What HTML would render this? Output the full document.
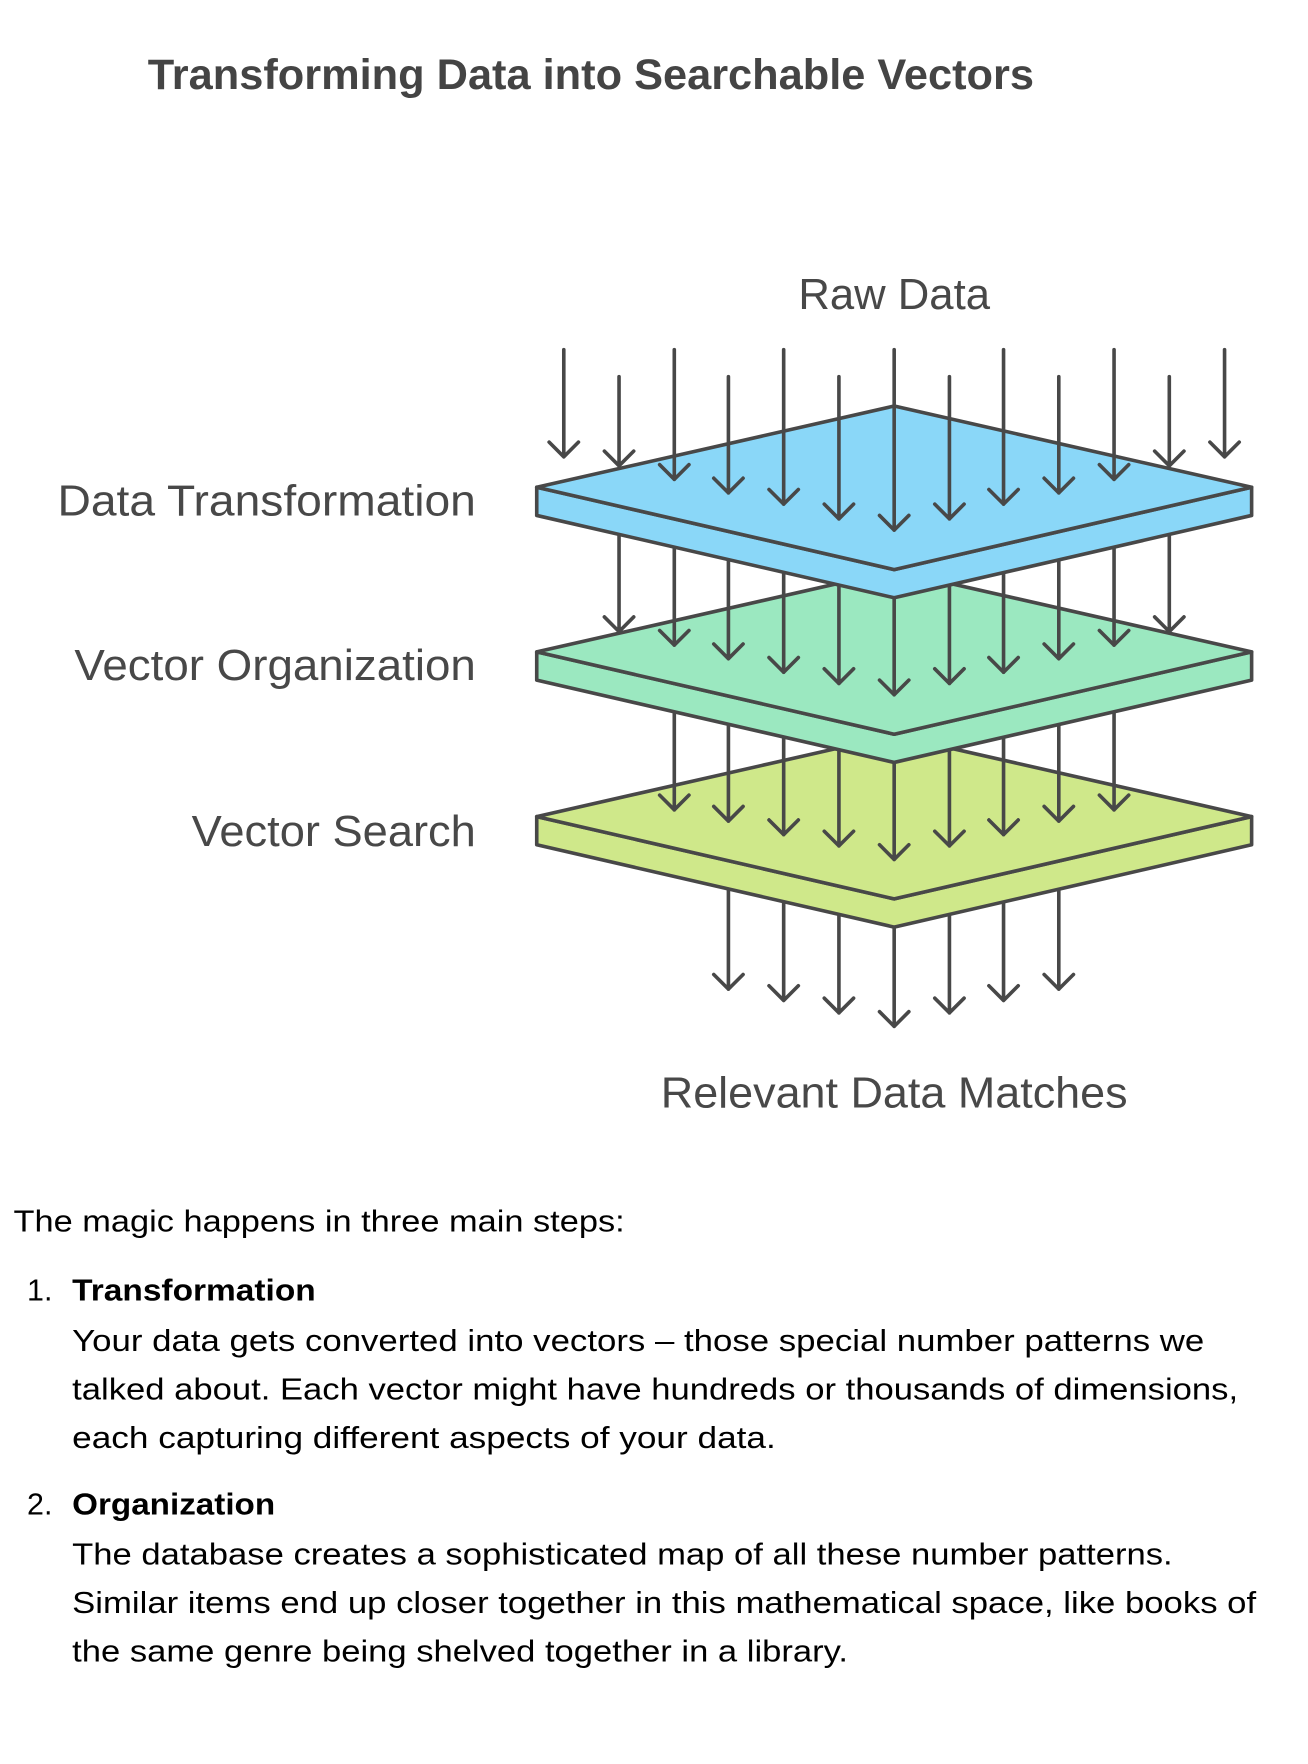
<!DOCTYPE html>
<html><head><meta charset="utf-8"><style>
html,body{margin:0;padding:0;background:#fff;}
svg{display:block;}
</style></head><body>
<svg width="1308" height="1764" viewBox="0 0 1160 1564" preserveAspectRatio="none" xmlns="http://www.w3.org/2000/svg" font-family="'Liberation Sans', sans-serif">
<rect width="1160" height="1564" fill="#fff"/>
<text x="131" y="79" font-size="38" font-weight="bold" fill="#444" textLength="786" lengthAdjust="spacingAndGlyphs">Transforming Data into Searchable Vectors</text>
<text x="708" y="274" font-size="39" fill="#484848" textLength="170" lengthAdjust="spacingAndGlyphs">Raw Data</text>
<g font-size="39" fill="#484848">
<text x="51" y="457" textLength="371" lengthAdjust="spacingAndGlyphs">Data Transformation</text>
<text x="66" y="603" textLength="356" lengthAdjust="spacingAndGlyphs">Vector Organization</text>
<text x="170" y="750" textLength="252" lengthAdjust="spacingAndGlyphs">Vector Search</text>
</g>
<text x="586" y="982" font-size="39" fill="#484848" textLength="414" lengthAdjust="spacingAndGlyphs">Relevant Data Matches</text>
<g stroke="#484848" stroke-width="3.2" fill="none" stroke-linecap="round" stroke-linejoin="round">
<path d="M646 770V877M633 864L646 877L659 864"/>
<path d="M695 770V887M682 874L695 887L708 874"/>
<path d="M744 770V898M731 885L744 898L757 885"/>
<path d="M793 770V910M780 897L793 910L806 897"/>
<path d="M842 770V898M829 885L842 898L855 885"/>
<path d="M890 770V887M877 874L890 887L903 874"/>
<path d="M939 770V877M926 864L939 877L952 864"/>
<path d="M476 724L476 749L793 822L1110 749L1110 724L793 797Z" fill="#CFE88A"/>
<path d="M476 724L793 652L1110 724L793 797Z" fill="#CFE88A"/>
<path d="M598 620V718M585 705L598 718L611 705"/>
<path d="M646 620V728M633 715L646 728L659 715"/>
<path d="M695 620V740M682 727L695 740L708 727"/>
<path d="M744 620V750M731 737L744 750L757 737"/>
<path d="M793 620V762M780 749L793 762L806 749"/>
<path d="M842 620V750M829 737L842 750L855 737"/>
<path d="M890 620V740M877 727L890 740L903 727"/>
<path d="M939 620V728M926 715L939 728L952 715"/>
<path d="M988 620V718M975 705L988 718L1001 705"/>
<path d="M476 578L476 603L793 676L1110 603L1110 578L793 651Z" fill="#9BE8C0"/>
<path d="M476 578L793 506L1110 578L793 651Z" fill="#9BE8C0"/>
<path d="M549 470V560M536 547L549 560L562 547"/>
<path d="M598 470V572M585 559L598 572L611 559"/>
<path d="M646 470V584M633 571L646 584L659 571"/>
<path d="M695 470V596M682 583L695 596L708 583"/>
<path d="M744 470V606M731 593L744 606L757 593"/>
<path d="M793 470V616M780 603L793 616L806 603"/>
<path d="M842 470V606M829 593L842 606L855 593"/>
<path d="M890 470V596M877 583L890 596L903 583"/>
<path d="M939 470V584M926 571L939 584L952 571"/>
<path d="M988 470V572M975 559L988 572L1001 559"/>
<path d="M1037 470V560M1024 547L1037 560L1050 547"/>
<path d="M476 432L476 457L793 530L1110 457L1110 432L793 505Z" fill="#8AD7F8"/>
<path d="M476 432L793 360L1110 432L793 505Z" fill="#8AD7F8"/>
<path d="M500 310V405M487 392L500 405L513 392"/>
<path d="M549 334V413M536 400L549 413L562 400"/>
<path d="M598 310V425M585 412L598 425L611 412"/>
<path d="M646 334V437M633 424L646 437L659 424"/>
<path d="M695 310V447M682 434L695 447L708 434"/>
<path d="M744 334V460M731 447L744 460L757 447"/>
<path d="M793 310V470M780 457L793 470L806 457"/>
<path d="M842 334V460M829 447L842 460L855 447"/>
<path d="M890 310V447M877 434L890 447L903 434"/>
<path d="M939 334V437M926 424L939 437L952 424"/>
<path d="M988 310V425M975 412L988 425L1001 412"/>
<path d="M1037 334V413M1024 400L1037 413L1050 400"/>
<path d="M1086 310V405M1073 392L1086 405L1099 392"/>
</g>
<g font-size="27" fill="#000" lengthAdjust="spacingAndGlyphs">
<text x="12" y="1092" textLength="542" lengthAdjust="spacingAndGlyphs">The magic happens in three main steps:</text>
<text x="24" y="1153">1.</text>
<text x="64" y="1153" font-weight="bold" textLength="216" lengthAdjust="spacingAndGlyphs">Transformation</text>
<text x="64" y="1198" textLength="1004" lengthAdjust="spacingAndGlyphs">Your data gets converted into vectors – those special number patterns we</text>
<text x="64" y="1241" textLength="1034" lengthAdjust="spacingAndGlyphs">talked about. Each vector might have hundreds or thousands of dimensions,</text>
<text x="64" y="1284" textLength="624" lengthAdjust="spacingAndGlyphs">each capturing different aspects of your data.</text>
<text x="24" y="1343">2.</text>
<text x="64" y="1343" font-weight="bold" textLength="180" lengthAdjust="spacingAndGlyphs">Organization</text>
<text x="64" y="1387" textLength="976" lengthAdjust="spacingAndGlyphs">The database creates a sophisticated map of all these number patterns.</text>
<text x="64" y="1430" textLength="1050" lengthAdjust="spacingAndGlyphs">Similar items end up closer together in this mathematical space, like books of</text>
<text x="64" y="1473" textLength="688" lengthAdjust="spacingAndGlyphs">the same genre being shelved together in a library.</text>
</g>
</svg>
</body></html>
